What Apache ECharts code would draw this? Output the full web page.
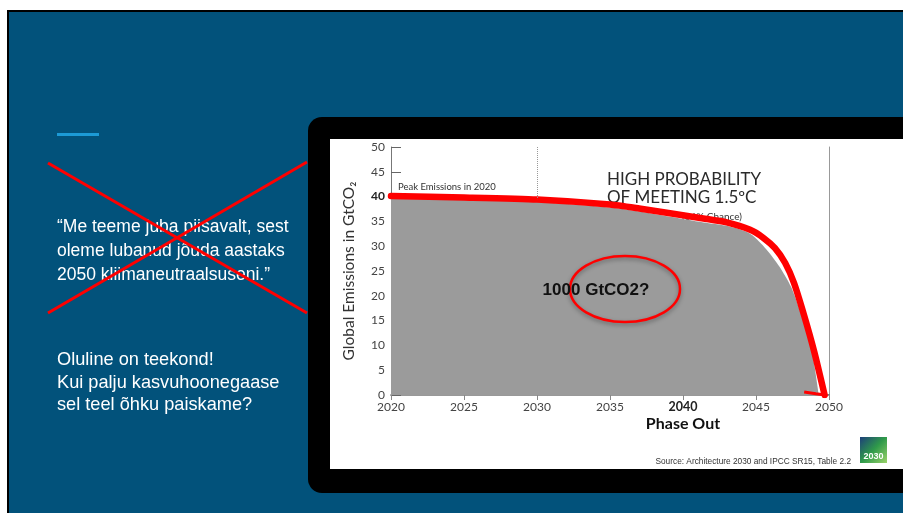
<!DOCTYPE html>
<html>
<head>
<meta charset="utf-8">
<script src="https://cdn.jsdelivr.net/npm/echarts@6/dist/echarts.min.js"></script>
<style>
html,body{margin:0;padding:0;background:#fff;}
#chart{width:903px;height:513px;}
</style>
</head>
<body>
<div id="chart"></div>
<script>
// ---- data ----
var GRAY_YEARS  = [2020, 2025, 2030, 2035, 2037, 2039, 2041.4, 2043, 2044.6, 2045.7, 2046.6, 2047.4, 2048, 2048.7, 2049.3];
var GRAY_VALUES = [40,   39.5, 38.9, 37.8, 37.0, 36.0, 34.8,   34.1, 32.5,   29.4,   25.9,   21.8,   17.1, 11.1,   0];
var RED_YEARS   = [2020, 2025, 2030, 2035, 2037, 2039, 2041.4, 2043, 2044.6, 2045.5, 2046.3, 2047.0, 2047.6, 2048.3, 2049.0, 2049.7];
var RED_VALUES  = [40.1, 39.8, 39.4, 38.4, 37.6, 36.7, 35.6,   34.8, 33.3,   31.7,   29.6,   26.6,   22.6,   16.0,   8.6,    0];
var RED_TAIL_YEARS  = [2048.3, 2049.1, 2049.7];
var RED_TAIL_VALUES = [0.6, 0.25, 0];
var MARK_YEAR = [2030];
var MARK_VALUES = [50, 39.5];
var X_TICKS = [2020, 2025, 2030, 2035, 2040, 2045, 2050];
var Y_TICKS = [0, 5, 10, 15, 20, 25, 30, 35, 40, 45, 50];
var PHASE_OUT_YEAR = 2040;
var PEAK_VALUE = 40;

var QUOTE_LINES = ['\u201cMe teeme juba piisavalt, sest', 'oleme lubanud j\u00f5uda aastaks', '2050 kliimaneutraalsuseni.\u201d'];
var NOTE_LINES = ['Oluline on teekond!', 'Kui palju kasvuhoonegaase', 'sel teel \u00f5hku paiskame?'];

function pairs(xs, ys){ return xs.map(function(x,i){ return [x, ys[i]]; }); }

var chart = echarts.init(document.getElementById('chart'), null, {renderer:'canvas'});

var graphics = [
  {type:'rect', z:-20, shape:{x:7, y:10, width:900, height:510}, style:{fill:'#000'}},
  {type:'rect', z:-19, shape:{x:9, y:12, width:900, height:510}, style:{fill:'#02527B'}},
  {type:'rect', z:-18, shape:{x:57, y:133, width:42, height:3}, style:{fill:'#1C9AD6'}},
  {type:'rect', z:-18, shape:{x:308, y:117, width:640, height:376, r:14}, style:{fill:'#000'}},
  {type:'rect', z:-17, shape:{x:330, y:139, width:620, height:330}, style:{fill:'#fff'}}
];
QUOTE_LINES.forEach(function(t,i){
  graphics.push({type:'text', z:-16, x:57, y:227 + i*24, style:{text:t, fill:'#fff', font:'17.5px "Liberation Sans", Arial, sans-serif', verticalAlign:'middle'}});
});
NOTE_LINES.forEach(function(t,i){
  graphics.push({type:'text', z:-16, x:57, y:360 + i*22.7, style:{text:t, fill:'#fff', font:'18.2px "Liberation Sans", Arial, sans-serif', verticalAlign:'middle'}});
});
graphics.push(
  {type:'line', z:-15, shape:{x1:48, y1:163, x2:307, y2:313}, style:{stroke:'#ff0000', lineWidth:3}},
  {type:'line', z:-15, shape:{x1:48, y1:313, x2:307, y2:162}, style:{stroke:'#ff0000', lineWidth:3}},
  // chart annotations beneath the series
  {type:'text', z:1, x:398, y:187, style:{text:'Peak Emissions in 2020', fill:'#333', font:'9.5px Lato, sans-serif', verticalAlign:'middle'}},
  {type:'text', z:1, x:607, y:180, style:{text:'HIGH PROBABILITY', fill:'#2a2a2a', font:'17px Lato, sans-serif', verticalAlign:'middle'}},
  {type:'text', z:1, x:607, y:198, style:{text:'OF MEETING 1.5\u00baC', fill:'#2a2a2a', font:'17px Lato, sans-serif', verticalAlign:'middle'}},
  {type:'text', z:1, x:742, y:217, style:{text:'(66% Chance)', fill:'#333', font:'10px Lato, sans-serif', verticalAlign:'middle', align:'right'}},
  // annotations above the series
  {type:'ellipse', z:10, shape:{cx:625, cy:289, rx:55, ry:33}, style:{fill:null, stroke:'#ff0000', lineWidth:2.5, shadowBlur:4, shadowColor:'rgba(0,0,0,0.35)', shadowOffsetY:2}},
  {type:'text', z:11, x:596, y:290, style:{text:'1000 GtCO2?', fill:'#111', font:'bold 17px "Liberation Sans", Arial, sans-serif', verticalAlign:'middle', align:'center'}},
  {type:'text', z:1, x:851, y:462, style:{text:'Source: Architecture 2030 and IPCC SR15, Table 2.2', fill:'#333', font:'8.3px "Liberation Sans", Arial, sans-serif', verticalAlign:'middle', align:'right'}},
  {type:'rect', z:1, shape:{x:860, y:437, width:27, height:26}, style:{fill:new echarts.graphic.LinearGradient(0,0,1,1,[{offset:0,color:'#1d3f7a'},{offset:0.5,color:'#2f9a4a'},{offset:1,color:'#9bd36a'}])}},
  {type:'text', z:2, x:873.5, y:457, style:{text:'2030', fill:'#fff', font:'bold 9px "Liberation Sans", Arial, sans-serif', verticalAlign:'middle', align:'center'}}
);

var option = {
  backgroundColor:'#ffffff',
  animation:false,
  grid:{left:391, right:74, top:147, bottom:118, show:false},
  xAxis:[
    {type:'value', position:'bottom', min:X_TICKS[0], max:X_TICKS[X_TICKS.length-1], interval:5,
     axisLine:{show:true, lineStyle:{color:'#555', width:1.5}},
     axisTick:{show:false}, splitLine:{show:false},
     axisLabel:{margin:5, color:'#444', fontFamily:'Lato, sans-serif', fontSize:12,
       formatter:function(v){ return v===PHASE_OUT_YEAR ? '{b|'+v+'}\n{p|Phase Out}' : '{a|'+v+'}'; },
       rich:{a:{fontSize:12, color:'#444', lineHeight:14, fontFamily:'Lato, sans-serif'},
             b:{fontSize:12.5, fontWeight:'bold', color:'#222', lineHeight:14, fontFamily:'Lato, sans-serif'},
             p:{fontSize:16, fontWeight:'bold', color:'#111', lineHeight:20, fontFamily:'Lato, sans-serif'}}}},
    {type:'value', position:'top', min:X_TICKS[0], max:X_TICKS[X_TICKS.length-1], interval:5,
     axisLine:{show:true, lineStyle:{color:'#999', width:1}},
     axisTick:{show:true, inside:true, length:5, lineStyle:{color:'#888'}},
     axisLabel:{show:false}, splitLine:{show:false}}
  ],
  yAxis:[
    {type:'value', position:'left', min:Y_TICKS[0], max:Y_TICKS[Y_TICKS.length-1], interval:5,
     name:'Global Emissions in GtCO\u2082', nameLocation:'middle', nameGap:34, nameRotate:90,
     nameTextStyle:{color:'#333', fontSize:15.5, fontFamily:'Lato, sans-serif'},
     axisLine:{show:true, lineStyle:{color:'#777'}},
     axisTick:{show:true, inside:true, length:10, lineStyle:{color:'#666'}},
     splitLine:{show:false},
     axisLabel:{margin:6, color:'#444', fontSize:12, fontFamily:'Lato, sans-serif',
       formatter:function(v){ return v===PEAK_VALUE ? '{b|'+v+'}' : String(v); },
       rich:{b:{fontWeight:'bold', color:'#222', fontSize:12, fontFamily:'Lato, sans-serif'}}}},
    {type:'value', position:'right', min:Y_TICKS[0], max:Y_TICKS[Y_TICKS.length-1],
     axisLine:{show:true, lineStyle:{color:'#999'}}, axisTick:{show:false}, axisLabel:{show:false}, splitLine:{show:false}}
  ],
  series:[
    {type:'line', name:'area', data:pairs(GRAY_YEARS, GRAY_VALUES), smooth:0.25, showSymbol:false, z:2,
     lineStyle:{width:0}, areaStyle:{color:'#9b9b9b', opacity:1}, silent:true,
     markLine:{silent:true, symbol:'none', label:{show:false},
       lineStyle:{color:'#999', type:'dotted', width:1},
       data:[[{coord:[MARK_YEAR[0], MARK_VALUES[0]]},{coord:[MARK_YEAR[0], MARK_VALUES[1]]}]]}},
    {type:'line', name:'path', data:pairs(RED_YEARS, RED_VALUES), smooth:0.2, showSymbol:false, z:3,
     lineStyle:{color:'#ff0000', width:6.5, cap:'round'}, silent:true},
    {type:'line', name:'tail', data:pairs(RED_TAIL_YEARS, RED_TAIL_VALUES), smooth:0.3, showSymbol:false, z:3,
     lineStyle:{color:'#ff0000', width:3}, silent:true}
  ],
  graphic:graphics
};
chart.setOption(option);
</script>
</body>
</html>
